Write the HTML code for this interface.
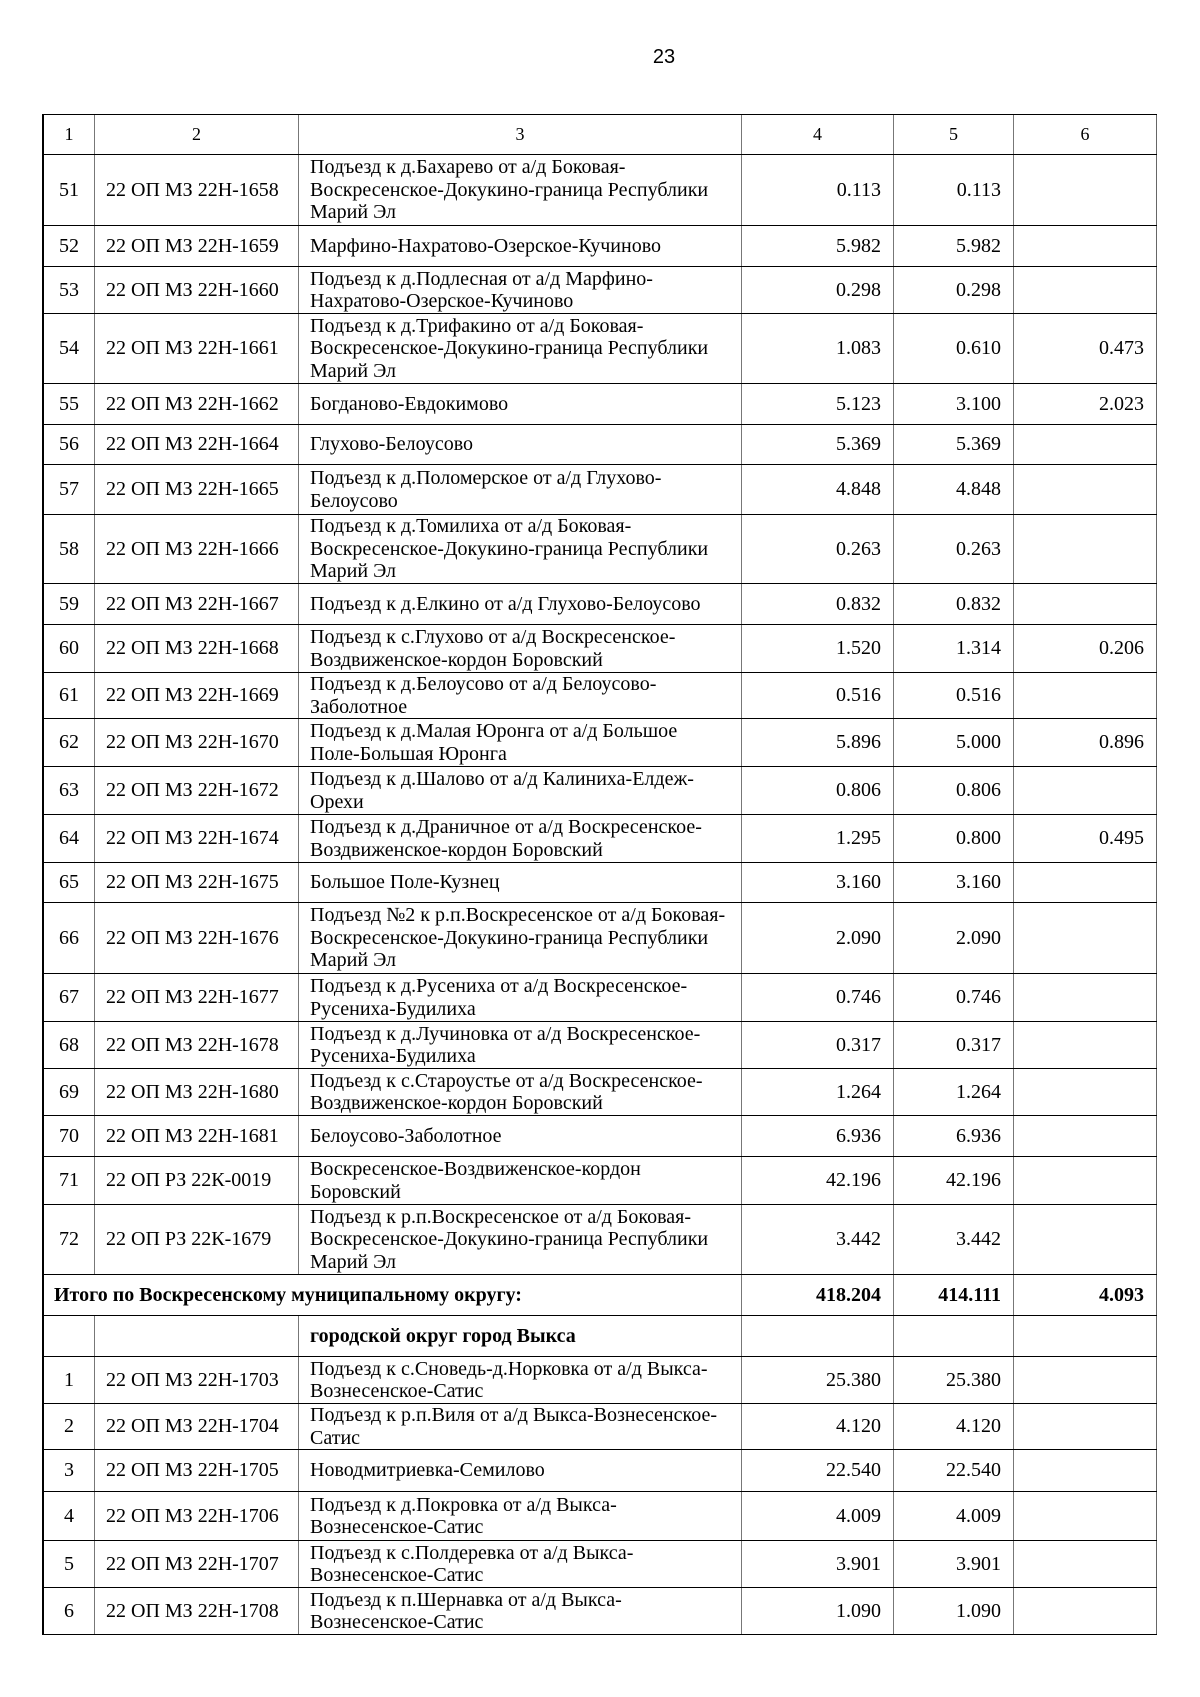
<!DOCTYPE html>
<html>
<head>
<meta charset="utf-8">
<style>
html,body{margin:0;padding:0;background:#fff;}
body{width:1200px;height:1697px;position:relative;overflow:hidden;font-family:"Liberation Serif","Noto Serif CJK SC",serif;font-size:20px;color:#000;}
.pg{position:absolute;left:614px;width:100px;top:43px;text-align:center;font-family:"Liberation Sans",sans-serif;font-size:20px;line-height:28px;}
.r{position:absolute;left:42px;width:1115px;display:flex;box-sizing:border-box;border-top:1px solid #000;border-left:2px solid #000;}
.c{box-sizing:border-box;border-right:1px solid #777;display:flex;align-items:center;height:100%;white-space:nowrap;line-height:22.5px;}
.c1{width:51px;justify-content:center;}
.c2{width:204px;padding-left:11px;}
.c3{width:443px;padding-left:11px;}
.c4{width:152px;justify-content:flex-end;padding-right:12px;}
.c5{width:120px;justify-content:flex-end;padding-right:12px;}
.c6{width:143px;justify-content:flex-end;padding-right:12px;border-right:1px solid #666;}
.h .c{justify-content:center;padding:0;font-size:18px;}
.b{font-weight:bold;}
.tot{width:698px;padding-left:10px;font-weight:bold;}
.bot{position:absolute;left:42px;width:1115px;top:1634px;height:0;border-top:1px solid #000;}
</style>
</head>
<body>
<div class="pg">23</div>

<div class="r h" style="top:114px;height:40px"><div class="c c1">1</div><div class="c c2">2</div><div class="c c3">3</div><div class="c c4">4</div><div class="c c5">5</div><div class="c c6">6</div></div>

<div class="r" style="top:154px;height:71px"><div class="c c1">51</div><div class="c c2">22 ОП МЗ 22Н-1658</div><div class="c c3"><div>Подъезд к д.Бахарево от а/д Боковая-<br>Воскресенское-Докукино-граница Республики<br>Марий Эл</div></div><div class="c c4">0.113</div><div class="c c5">0.113</div><div class="c c6"></div></div>

<div class="r" style="top:225px;height:41px"><div class="c c1">52</div><div class="c c2">22 ОП МЗ 22Н-1659</div><div class="c c3">Марфино-Нахратово-Озерское-Кучиново</div><div class="c c4">5.982</div><div class="c c5">5.982</div><div class="c c6"></div></div>

<div class="r" style="top:266px;height:47px"><div class="c c1">53</div><div class="c c2">22 ОП МЗ 22Н-1660</div><div class="c c3"><div>Подъезд к д.Подлесная от а/д Марфино-<br>Нахратово-Озерское-Кучиново</div></div><div class="c c4">0.298</div><div class="c c5">0.298</div><div class="c c6"></div></div>

<div class="r" style="top:313px;height:70px"><div class="c c1">54</div><div class="c c2">22 ОП МЗ 22Н-1661</div><div class="c c3"><div>Подъезд к д.Трифакино от а/д Боковая-<br>Воскресенское-Докукино-граница Республики<br>Марий Эл</div></div><div class="c c4">1.083</div><div class="c c5">0.610</div><div class="c c6">0.473</div></div>

<div class="r" style="top:383px;height:41px"><div class="c c1">55</div><div class="c c2">22 ОП МЗ 22Н-1662</div><div class="c c3">Богданово-Евдокимово</div><div class="c c4">5.123</div><div class="c c5">3.100</div><div class="c c6">2.023</div></div>

<div class="r" style="top:424px;height:40px"><div class="c c1">56</div><div class="c c2">22 ОП МЗ 22Н-1664</div><div class="c c3">Глухово-Белоусово</div><div class="c c4">5.369</div><div class="c c5">5.369</div><div class="c c6"></div></div>

<div class="r" style="top:464px;height:50px"><div class="c c1">57</div><div class="c c2">22 ОП МЗ 22Н-1665</div><div class="c c3"><div>Подъезд к д.Поломерское от а/д Глухово-<br>Белоусово</div></div><div class="c c4">4.848</div><div class="c c5">4.848</div><div class="c c6"></div></div>

<div class="r" style="top:514px;height:69px"><div class="c c1">58</div><div class="c c2">22 ОП МЗ 22Н-1666</div><div class="c c3"><div>Подъезд к д.Томилиха от а/д Боковая-<br>Воскресенское-Докукино-граница Республики<br>Марий Эл</div></div><div class="c c4">0.263</div><div class="c c5">0.263</div><div class="c c6"></div></div>

<div class="r" style="top:583px;height:41px"><div class="c c1">59</div><div class="c c2">22 ОП МЗ 22Н-1667</div><div class="c c3">Подъезд к д.Елкино от а/д Глухово-Белоусово</div><div class="c c4">0.832</div><div class="c c5">0.832</div><div class="c c6"></div></div>

<div class="r" style="top:624px;height:48px"><div class="c c1">60</div><div class="c c2">22 ОП МЗ 22Н-1668</div><div class="c c3"><div>Подъезд к с.Глухово от а/д Воскресенское-<br>Воздвиженское-кордон Боровский</div></div><div class="c c4">1.520</div><div class="c c5">1.314</div><div class="c c6">0.206</div></div>

<div class="r" style="top:672px;height:46px"><div class="c c1">61</div><div class="c c2">22 ОП МЗ 22Н-1669</div><div class="c c3"><div>Подъезд к д.Белоусово от а/д Белоусово-<br>Заболотное</div></div><div class="c c4">0.516</div><div class="c c5">0.516</div><div class="c c6"></div></div>

<div class="r" style="top:718px;height:48px"><div class="c c1">62</div><div class="c c2">22 ОП МЗ 22Н-1670</div><div class="c c3"><div>Подъезд к д.Малая Юронга от а/д Большое<br>Поле-Большая Юронга</div></div><div class="c c4">5.896</div><div class="c c5">5.000</div><div class="c c6">0.896</div></div>

<div class="r" style="top:766px;height:48px"><div class="c c1">63</div><div class="c c2">22 ОП МЗ 22Н-1672</div><div class="c c3"><div>Подъезд к д.Шалово от а/д Калиниха-Елдеж-<br>Орехи</div></div><div class="c c4">0.806</div><div class="c c5">0.806</div><div class="c c6"></div></div>

<div class="r" style="top:814px;height:48px"><div class="c c1">64</div><div class="c c2">22 ОП МЗ 22Н-1674</div><div class="c c3"><div>Подъезд к д.Драничное от а/д Воскресенское-<br>Воздвиженское-кордон Боровский</div></div><div class="c c4">1.295</div><div class="c c5">0.800</div><div class="c c6">0.495</div></div>

<div class="r" style="top:862px;height:40px"><div class="c c1">65</div><div class="c c2">22 ОП МЗ 22Н-1675</div><div class="c c3">Большое Поле-Кузнец</div><div class="c c4">3.160</div><div class="c c5">3.160</div><div class="c c6"></div></div>

<div class="r" style="top:902px;height:71px"><div class="c c1">66</div><div class="c c2">22 ОП МЗ 22Н-1676</div><div class="c c3"><div>Подъезд №2 к р.п.Воскресенское от а/д Боковая-<br>Воскресенское-Докукино-граница Республики<br>Марий Эл</div></div><div class="c c4">2.090</div><div class="c c5">2.090</div><div class="c c6"></div></div>

<div class="r" style="top:973px;height:48px"><div class="c c1">67</div><div class="c c2">22 ОП МЗ 22Н-1677</div><div class="c c3"><div>Подъезд к д.Русениха от а/д Воскресенское-<br>Русениха-Будилиха</div></div><div class="c c4">0.746</div><div class="c c5">0.746</div><div class="c c6"></div></div>

<div class="r" style="top:1021px;height:47px"><div class="c c1">68</div><div class="c c2">22 ОП МЗ 22Н-1678</div><div class="c c3"><div>Подъезд к д.Лучиновка от а/д Воскресенское-<br>Русениха-Будилиха</div></div><div class="c c4">0.317</div><div class="c c5">0.317</div><div class="c c6"></div></div>

<div class="r" style="top:1068px;height:47px"><div class="c c1">69</div><div class="c c2">22 ОП МЗ 22Н-1680</div><div class="c c3"><div>Подъезд к с.Староустье от а/д Воскресенское-<br>Воздвиженское-кордон Боровский</div></div><div class="c c4">1.264</div><div class="c c5">1.264</div><div class="c c6"></div></div>

<div class="r" style="top:1115px;height:41px"><div class="c c1">70</div><div class="c c2">22 ОП МЗ 22Н-1681</div><div class="c c3">Белоусово-Заболотное</div><div class="c c4">6.936</div><div class="c c5">6.936</div><div class="c c6"></div></div>

<div class="r" style="top:1156px;height:48px"><div class="c c1">71</div><div class="c c2">22 ОП РЗ 22К-0019</div><div class="c c3"><div>Воскресенское-Воздвиженское-кордон<br>Боровский</div></div><div class="c c4">42.196</div><div class="c c5">42.196</div><div class="c c6"></div></div>

<div class="r" style="top:1204px;height:70px"><div class="c c1">72</div><div class="c c2">22 ОП РЗ 22К-1679</div><div class="c c3"><div>Подъезд к р.п.Воскресенское от а/д Боковая-<br>Воскресенское-Докукино-граница Республики<br>Марий Эл</div></div><div class="c c4">3.442</div><div class="c c5">3.442</div><div class="c c6"></div></div>

<div class="r" style="top:1274px;height:41px"><div class="c tot">Итого по Воскресенскому муниципальному округу:</div><div class="c c4 b">418.204</div><div class="c c5 b">414.111</div><div class="c c6 b">4.093</div></div>

<div class="r" style="top:1315px;height:41px"><div class="c c1"></div><div class="c c2"></div><div class="c c3 b">городской округ город Выкса</div><div class="c c4"></div><div class="c c5"></div><div class="c c6"></div></div>

<div class="r" style="top:1356px;height:47px"><div class="c c1">1</div><div class="c c2">22 ОП МЗ 22Н-1703</div><div class="c c3"><div>Подъезд к с.Сноведь-д.Норковка от а/д Выкса-<br>Вознесенское-Сатис</div></div><div class="c c4">25.380</div><div class="c c5">25.380</div><div class="c c6"></div></div>

<div class="r" style="top:1403px;height:46px"><div class="c c1">2</div><div class="c c2">22 ОП МЗ 22Н-1704</div><div class="c c3"><div>Подъезд к р.п.Виля от а/д Выкса-Вознесенское-<br>Сатис</div></div><div class="c c4">4.120</div><div class="c c5">4.120</div><div class="c c6"></div></div>

<div class="r" style="top:1449px;height:42px"><div class="c c1">3</div><div class="c c2">22 ОП МЗ 22Н-1705</div><div class="c c3">Новодмитриевка-Семилово</div><div class="c c4">22.540</div><div class="c c5">22.540</div><div class="c c6"></div></div>

<div class="r" style="top:1491px;height:49px"><div class="c c1">4</div><div class="c c2">22 ОП МЗ 22Н-1706</div><div class="c c3"><div>Подъезд к д.Покровка от а/д Выкса-<br>Вознесенское-Сатис</div></div><div class="c c4">4.009</div><div class="c c5">4.009</div><div class="c c6"></div></div>

<div class="r" style="top:1540px;height:47px"><div class="c c1">5</div><div class="c c2">22 ОП МЗ 22Н-1707</div><div class="c c3"><div>Подъезд к с.Полдеревка от а/д Выкса-<br>Вознесенское-Сатис</div></div><div class="c c4">3.901</div><div class="c c5">3.901</div><div class="c c6"></div></div>

<div class="r" style="top:1587px;height:47px"><div class="c c1">6</div><div class="c c2">22 ОП МЗ 22Н-1708</div><div class="c c3"><div>Подъезд к п.Шернавка от а/д Выкса-<br>Вознесенское-Сатис</div></div><div class="c c4">1.090</div><div class="c c5">1.090</div><div class="c c6"></div></div>

<div class="bot"></div>
</body>
</html>
